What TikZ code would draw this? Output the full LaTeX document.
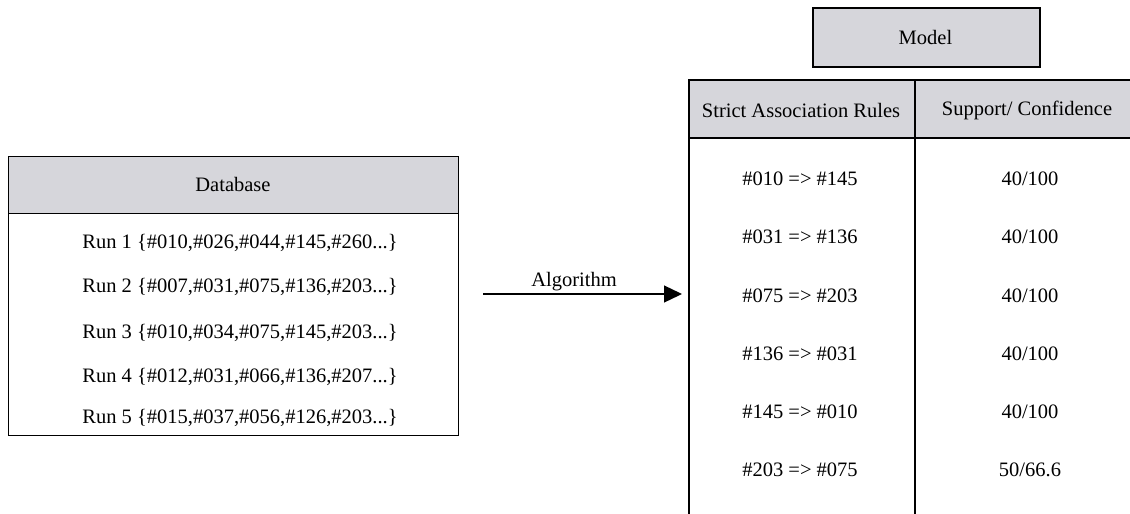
\documentclass[tikz,border=0pt]{standalone}
\usepackage{fontspec}
\setmainfont{Liberation Serif}
\usetikzlibrary{arrows.meta,calc}
\definecolor{headgray}{RGB}{214,214,219}
\tikzset{
  box/.style={draw=black, line width=1.3pt, rectangle, inner sep=0pt, anchor=north west},
  head/.style={box, fill=headgray},
  txt/.style={inner sep=0pt, font=\fontsize{20.5}{24}\selectfont},
  flow/.style={line width=1.3pt, -{Triangle[length=18pt,width=17pt]}}
}
\begin{document}
\begin{tikzpicture}[x=1pt,y=-1pt]
\useasboundingbox (0,0) rectangle (1130,514);
\clip (0,0) rectangle (1130,514);

% Database table
\node[head, minimum width=450pt, minimum height=57pt] (dbhead) at (8,156) {};
\node[box, minimum width=450pt, minimum height=222pt] (dbbody) at (8,213) {};
\node[txt] (dbtitle) at (233,184) {Database};
\node[txt] (run1) at (240,243) {Run 1 \{\#010,\#026,\#044,\#145,\#260...\}};
\node[txt] (run2) at (240,287) {Run 2 \{\#007,\#031,\#075,\#136,\#203...\}};
\node[txt] (run3) at (240,333) {Run 3 \{\#010,\#034,\#075,\#145,\#203...\}};
\node[txt] (run4) at (240,377) {Run 4 \{\#012,\#031,\#066,\#136,\#207...\}};
\node[txt] (run5) at (240,418) {Run 5 \{\#015,\#037,\#056,\#126,\#203...\}};

% Model title
\node[head, line width=2pt, minimum width=227pt, minimum height=59pt] (model) at (812,7) {};
\node[txt] (modeltitle) at (925.5,37) {Model};

% Rule table
\node[head, line width=1.6pt, minimum width=226pt, minimum height=58pt] (rulehead) at (688,79) {};
\node[head, line width=1.6pt, minimum width=226pt, minimum height=58pt] (valhead) at (914,79) {};
\node[box, line width=1.6pt, minimum width=226pt, minimum height=400pt] (rules) at (688,137) {};
\node[box, line width=1.6pt, minimum width=226pt, minimum height=400pt] (vals) at (914,137) {};
\node[txt] (rulecap) at (801,110) {Strict Association Rules};
\node[txt] (valcap) at (1027,110) {Support/ Confidence};

\foreach \i/\y/\r/\v in {1/179/\#010 => \#145/40\slash100,
                         2/237/\#031 => \#136/40\slash100,
                         3/296/\#075 => \#203/40\slash100,
                         4/354/\#136 => \#031/40\slash100,
                         5/412/\#145 => \#010/40\slash100,
                         6/470/\#203 => \#075/50\slash66.6}{
  \node[txt] (rule\i) at (800,\y) {\r};
  \node[txt] (val\i) at (1030,\y) {\v};
}

% Mining step
\coordinate (src) at (483,294);
\draw[flow, shorten >=6pt] (src) -- (src -| rules.west);
\node[txt] (algo) at (574,282) {Algorithm};
\end{tikzpicture}
\end{document}
